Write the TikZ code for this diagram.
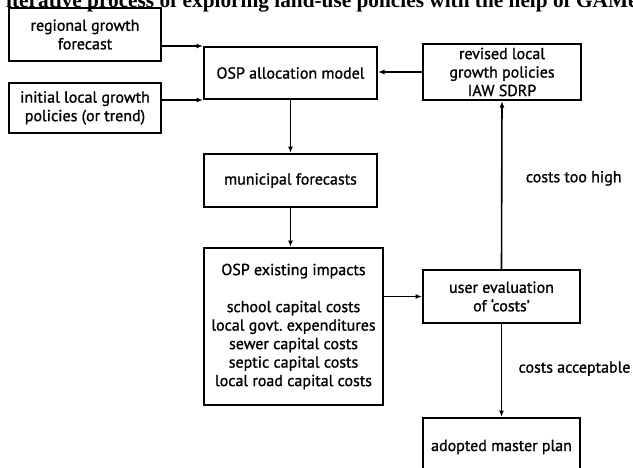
\documentclass[tikz,border=0pt]{standalone}
\usepackage{fontspec}
\setmainfont{PT Sans}[FakeBold=1.1]
\newfontfamily\titlefont{Liberation Serif}
\usetikzlibrary{arrows.meta,positioning}

\begin{document}
\begin{tikzpicture}[x=1pt,y=-1pt,
  every node/.style={font=\fontsize{16}{18.5}\selectfont},
  stage/.style={draw,line width=2pt,align=center,inner sep=2pt},
  flow/.style={-{Latex[length=6.5pt,width=5pt]},line width=1.6pt}]
  \useasboundingbox (0,0) rectangle (633,467);
  % Title, cut by the top edge of the page.
  \node[anchor=base west,inner sep=0pt,font=\titlefont\bfseries\fontsize{21.3}{25}\selectfont]
    (title) at (6,7) {iterative process of exploring land-use policies with the help of GAMe};

  % Inputs and the allocation model.
  \node[stage,minimum width=152pt,minimum height=53pt] (regional) at (85,34.5)
    {regional growth\\forecast};
  \node[stage,minimum width=152pt,minimum height=50pt] (initial) at (85,108)
    {initial local growth\\policies (or trend)};
  \node[stage,minimum width=173pt,minimum height=52pt] (alloc) at (290.5,73)
    {OSP allocation model};
  \node[stage,minimum width=158pt,minimum height=56pt] (revised) at (502,72)
    {revised local\\growth policies\\IAW SDRP};

  % Forecasts, impacts and the user's decision.
  \node[stage,minimum width=173pt,minimum height=53pt] (municipal) at (290.5,180.5)
    {municipal forecasts};
  \node[stage,minimum width=179pt,minimum height=157pt] (impacts) at (293.5,326.5)
    {OSP existing impacts\\[18.5pt]school capital costs\\local govt.\ expenditures\\
     sewer capital costs\\septic capital costs\\local road capital costs};
  \node[stage,minimum width=157pt,minimum height=53pt] (evaluation) at (501.5,296.5)
    {user evaluation\\of `costs'};
  \node[stage,minimum width=157pt,minimum height=58pt] (adopted) at (501.5,447)
    {adopted master plan};

  \draw[flow] (regional.east |- alloc.north west) -- (alloc.north west);
  \draw[flow] (initial.east |- alloc.south west) -- (alloc.south west);
  \draw[flow] (revised.west) -- (revised.west -| alloc.east);
  \draw[flow] (alloc.south) -- (municipal.north);
  \draw[flow] (municipal.south) -- (municipal.south |- impacts.north);
  \draw[flow] (evaluation.west -| impacts.east) -- (evaluation.west);
  \draw[flow] (evaluation.north) -- node[pos=0.54,right=20pt] (high) {costs too high} (revised.south);
  \draw[flow] (evaluation.south) -- node[pos=0.48,right=13pt] (acceptable) {costs acceptable} (adopted.north);
\end{tikzpicture}
\end{document}
